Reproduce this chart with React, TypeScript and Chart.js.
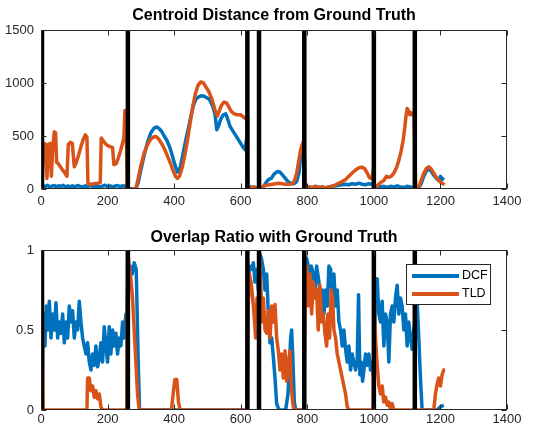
import { useEffect, useRef } from "react";
import { Chart, registerables } from "chart.js";
Chart.register(...registerables);

const FONT = "'Liberation Sans', Arial, Helvetica, sans-serif";
const INK = "#262626";
const DCF_COLOR = "#0072BD";
const TLD_COLOR = "#D95319";

const titleTop = "Centroid Distance from Ground Truth";
const titleBottom = "Overlap Ratio with Ground Truth";
const seriesNames = ["DCF", "TLD"];

const xTicks = [0, 200, 400, 600, 800, 1000, 1200, 1400];
const distTicks = [0, 500, 1000, 1500];
const overlapTicks = [0, 0.5, 1];
const reinitFrames = [3, 261, 620, 655, 791, 1000, 1123];

// Centroid distance — DCF
const distDcfFrames = [
  3, 8, 14, 20, 27, 33, 40, 47, 53, 60, 67, 73, 80, 88, 95, 102, 110, 118, 125, 133, 140, 148, 155, 163, 170, 178, 185, 193, 200, 208, 215, 223, 230, 238, 245, 252, 258,
  262, 285, 292, 300, 310, 320, 330, 340, 348, 355, 362, 370, 378, 386, 394, 402, 410, 418, 426, 434, 442, 450, 458, 466, 474, 482, 490, 498, 505, 512, 518, 523, 528, 534, 540, 548, 555, 562, 568, 574, 582, 590, 598, 606, 613, 618,
  621, 630, 640, 652,
  657, 665, 672, 678, 684, 692, 700, 710, 718, 726, 734, 742, 750, 760, 768, 775, 780, 786, 790,
  794, 805, 815, 825, 835, 845, 855, 865, 875, 885, 895, 905, 915, 925, 935, 945, 955, 965, 975, 985, 995, 999,
  1003, 1012, 1020, 1030, 1040, 1050, 1060, 1070, 1080, 1090, 1100, 1110, 1118, 1122,
  1126, 1135, 1142, 1150, 1158, 1165, 1172, 1180, 1188, 1195, 1200, 1205, 1210,
];
const distDcfValues = [
  20, 30, 22, 35, 18, 28, 32, 20, 30, 25, 35, 18, 28, 22, 30, 20, 33, 25, 18, 30, 22, 35, 25, 20, 30, 18, 28, 35, 22, 30, 20, 28, 33, 22, 30, 25, 35,
  0, 5, 60, 180, 320, 440, 530, 575, 585, 570, 545, 500, 460, 400, 320, 230, 160, 200, 320, 450, 560, 680, 790, 850, 870, 880, 875, 860, 850, 810, 760, 700, 560, 600, 660, 700, 710, 650, 590, 560, 520, 480, 440, 400, 370, 480,
  10, 20, 15, 5,
  0, 10, 40, 70, 90, 100, 140, 165, 160, 130, 100, 70, 55, 50, 70, 150, 300, 420, 450,
  15, 20, 10, 25, 15, 20, 10, 20, 25, 30, 35, 40, 45, 40, 50, 45, 55, 45, 40, 50, 45, 60,
  10, 30, 20, 25, 15, 25, 20, 30, 20, 15, 25, 20, 10, 5,
  0, 10, 50, 120, 170, 190, 170, 130, 100, 80, 120, 90, 110,
];

// Centroid distance — TLD
const distTldFrames = [
  3, 6, 10, 14, 18, 22, 27, 31, 36, 40, 44, 47, 52, 58, 65, 72, 78, 82, 88, 94, 100, 106, 113, 120, 127, 133, 138, 141, 150, 160, 170, 178, 181, 186, 193, 200, 208, 215, 219, 226, 232, 238, 244, 249, 252, 256, 259,
  262, 285, 292, 300, 310, 320, 330, 340, 348, 356, 364, 372, 380, 388, 396, 404, 410, 416, 424, 432, 440, 448, 456, 464, 472, 480, 488, 496, 504, 512, 518, 524, 530, 536, 542, 550, 558, 565, 572, 580, 590, 600, 608, 615, 619,
  621, 632, 642, 652,
  657, 665, 675, 685, 695, 705, 715, 725, 735, 745, 755, 762, 768, 774, 780, 786, 790,
  794, 805, 815, 825, 835, 845, 855, 865, 875, 885, 895, 905, 915, 925, 935, 945, 955, 965, 973, 980, 986, 992, 996, 999,
  1002, 1010, 1020, 1030, 1038, 1045, 1052, 1060, 1068, 1075, 1082, 1088, 1093, 1097, 1100, 1104, 1108, 1112, 1116, 1121,
  1126, 1135, 1142, 1150, 1158, 1165, 1172, 1180, 1188, 1195, 1202, 1208, 1212,
];
const distTldValues = [
  0, 300, 430, 420, 100, 420, 430, 120, 420, 540, 530, 250, 240, 210, 180, 150, 120, 420, 440, 430, 210, 250, 320, 400, 470, 510, 490, 50, 45, 50, 55, 60, 480, 460, 430, 410, 400, 390, 230, 240, 290, 350, 420, 480, 740, 600, 0,
  0, 0, 100, 220, 340, 420, 470, 495, 490, 460, 420, 370, 310, 250, 180, 120, 100, 120, 200, 320, 460, 620, 780, 900, 980, 1010, 1000, 960, 920, 860, 800, 730, 690, 740, 790, 820, 810, 770, 730, 710, 700, 700, 680, 660, 670,
  0, 10, 20, 0,
  0, 20, 35, 40, 45, 50, 55, 50, 45, 45, 50, 80, 150, 260, 370, 430, 450,
  10, 20, 15, 25, 15, 20, 10, 20, 25, 40, 55, 70, 90, 120, 150, 180, 200, 205, 190, 150, 110, 100, 130, 190,
  0, 30, 60, 80, 120, 110, 120, 150, 200, 270, 360, 460, 580, 700, 760, 740, 700, 720, 700, 690,
  0, 20, 80, 150, 195, 210, 190, 150, 110, 80, 60, 50, 40,
];

// Overlap ratio — DCF
const overlapDcfFrames = [
  3, 5, 8, 12, 16, 20, 25, 30, 35, 40, 45, 50, 55, 60, 65, 70, 75, 80, 85, 90, 95, 100, 105, 110, 115, 120, 125, 130, 135, 140, 145, 150, 155, 160, 165, 170, 175, 180, 185, 190, 195, 200, 205, 210, 215, 220, 225, 230, 235, 240, 245, 250, 255, 258,
  262, 268, 274, 280, 286, 289, 292, 296, 618,
  622, 626, 632, 638, 643, 648, 653,
  656, 662, 668, 673, 678, 683, 688, 693, 698, 703, 708, 715, 725, 735, 742, 746, 750, 753, 757, 761, 765, 790,
  793, 798, 803, 808, 812, 818, 823, 828, 835, 840, 845, 850, 855, 860, 865, 870, 875, 880, 885, 890, 895, 900, 905, 910, 915, 920, 925, 930, 935, 940, 945, 950, 954, 958, 962, 966, 970, 975, 980, 985, 990, 995, 998,
  1002, 1006, 1010, 1015, 1020, 1025, 1030, 1035, 1040, 1045, 1050, 1055, 1060, 1065, 1070, 1075, 1080, 1085, 1090, 1095, 1100, 1105, 1110, 1115, 1120,
  1125, 1130, 1135, 1140, 1145, 1190, 1200, 1210,
];
const overlapDcfValues = [
  0, 0.35, 0.6, 0.4, 0.65, 0.5, 0.68, 0.45, 0.6, 0.5, 0.67, 0.45, 0.55, 0.48, 0.6, 0.42, 0.55, 0.45, 0.65, 0.55, 0.62, 0.45, 0.55, 0.5, 0.68, 0.55, 0.45, 0.4, 0.35, 0.42, 0.3, 0.25, 0.35, 0.28, 0.4, 0.27, 0.32, 0.42, 0.3, 0.52, 0.4, 0.3, 0.52, 0.35, 0.5, 0.4, 0.48, 0.35, 0.45, 0.4, 0.55, 0.45, 0.6, 0.58,
  0.88, 0.9, 0.85, 0.92, 0.88, 0.6, 0.3, 0, 0,
  0.65, 0.9, 0.88, 0.92, 0.8, 0.88, 0.75,
  0.98, 0.95, 0.88, 0.75, 0.85, 0.6, 0.42, 0.45, 0.33, 0.2, 0.04, 0, 0, 0, 0.1, 0.27, 0.45, 0.5, 0.3, 0.05, 0, 0,
  0.85, 0.95, 0.9, 0.8, 0.9, 0.85, 0.75, 0.9, 0.8, 0.65, 0.75, 0.6, 0.75, 0.65, 0.9, 0.88, 0.7, 0.85, 0.65, 0.75, 0.55, 0.5, 0.4, 0.5, 0.38, 0.3, 0.4, 0.25, 0.35, 0.3, 0.25, 0.3, 0.72, 0.22, 0.3, 0.18, 0.25, 0.35, 0.28, 0.35, 0.25, 0.3, 0.22,
  0.45, 0.8, 0.82, 0.6, 0.55, 0.68, 0.4, 0.6, 0.55, 0.3, 0.6, 0.65, 0.55, 0.7, 0.78, 0.6, 0.7, 0.65, 0.5, 0.6, 0.4, 0.55, 0.45, 0.38, 0.5,
  0.6, 0.68, 0.45, 0.2, 0, 0, 0.02, 0.03,
];

// Overlap ratio — TLD
const overlapTldFrames = [
  3, 6, 138, 140, 145, 150, 155, 160, 165, 170, 175, 180, 185, 258,
  260, 265, 270, 275, 280, 285, 290, 295, 392, 397, 402, 408, 413, 418, 620,
  622, 626, 631, 636, 640, 645, 649, 653,
  656, 660, 664, 668, 673, 678, 683, 688, 693, 698, 703, 708, 713, 718, 723, 728, 733, 738, 743, 748, 752, 756, 760, 790,
  793, 798, 803, 808, 813, 818, 823, 828, 833, 838, 843, 848, 853, 858, 862, 867, 872, 876, 880, 885, 890, 895, 900, 905, 910, 915, 920, 925, 998,
  1001, 1005, 1010, 1015, 1020, 1025, 1030, 1035, 1040, 1045, 1050, 1055, 1060, 1122,
  1125, 1180, 1185, 1190, 1195, 1200, 1205, 1210, 1214,
];
const overlapTldValues = [
  0.95, 0, 0, 0.2, 0.2, 0.12, 0.15, 0.08, 0.12, 0.07, 0.1, 0.02, 0, 0,
  1, 0.9, 0.82, 0.7, 0.5, 0.3, 0.1, 0, 0, 0.1, 0.19, 0.19, 0.05, 0, 0,
  0.6, 0.85, 0.8, 0.7, 0.6, 0.45, 0.7, 0.55,
  0.95, 0.8, 0.55, 0.7, 0.5, 0.48, 0.62, 0.45, 0.65, 0.55, 0.66, 0.45, 0.37, 0.25, 0.35, 0.2, 0.37, 0.18, 0.3, 0.37, 0.15, 0.05, 0, 0,
  0.75, 0.9, 0.65, 0.85, 0.6, 0.8, 0.7, 0.75, 0.5, 0.78, 0.55, 0.6, 0.48, 0.4, 0.6, 0.45, 0.75, 0.7, 0.5, 0.45, 0.35, 0.3, 0.25, 0.2, 0.15, 0.1, 0.02, 0, 0,
  0.7, 0.45, 0.28, 0.15, 0.1, 0.15, 0.05, 0.08, 0.03, 0.05, 0, 0.04, 0, 0,
  0, 0, 0.1, 0.16, 0.2, 0.15, 0.22, 0.25, 0.25,
];

const toPoints = (xs: number[], ys: number[]) => xs.map((x, i) => ({ x, y: ys[i] }));
const reinitPoints = (yMax: number) =>
  reinitFrames.flatMap((f) => [
    { x: f, y: 0 },
    { x: f, y: yMax },
    { x: f, y: null as any },
  ]);

const boxPlugin = {
  id: "matlabBox",
  afterDraw(chart: any) {
    const { ctx, chartArea: a, scales } = chart;
    ctx.save();
    ctx.strokeStyle = INK;
    ctx.lineWidth = 1;
    const L = Math.round(a.left) + 0.5;
    const R = Math.round(a.right) - 0.5;
    const T = Math.round(a.top) + 0.5;
    const B = Math.round(a.bottom) - 0.5;
    ctx.strokeRect(L, T, R - L, B - T);
    const len = 5;
    ctx.beginPath();
    scales.x.ticks.forEach((t: any) => {
      const px = Math.round(scales.x.getPixelForValue(t.value)) + 0.5;
      ctx.moveTo(px, B);
      ctx.lineTo(px, B - len);
      ctx.moveTo(px, T);
      ctx.lineTo(px, T + len);
    });
    scales.y.ticks.forEach((t: any) => {
      const py = Math.round(scales.y.getPixelForValue(t.value)) + 0.5;
      ctx.moveTo(L, py);
      ctx.lineTo(L + len, py);
      ctx.moveTo(R, py);
      ctx.lineTo(R - len, py);
    });
    ctx.stroke();
    ctx.restore();
  },
};

const titlePlugin = {
  id: "matlabTitle",
  afterDraw(chart: any, _args: any, opts: any) {
    if (!opts || !opts.text) return;
    const { ctx, chartArea: a } = chart;
    ctx.save();
    ctx.fillStyle = "#000";
    ctx.font = `bold ${opts.size}px ${FONT}`;
    ctx.textAlign = "center";
    ctx.textBaseline = "middle";
    ctx.fillText(opts.text, (a.left + a.right) / 2, opts.y);
    ctx.restore();
  },
};

const legendPlugin = {
  id: "matlabLegend",
  afterDraw(chart: any, _args: any, opts: any) {
    if (!opts || !opts.show) return;
    const { ctx } = chart;
    const { x, y, w, h } = opts;
    ctx.save();
    ctx.fillStyle = "#fff";
    ctx.fillRect(x, y, w, h);
    ctx.strokeStyle = INK;
    ctx.lineWidth = 1;
    ctx.strokeRect(x + 0.5, y + 0.5, w - 1, h - 1);
    const items = chart.data.datasets.filter((d: any) => seriesNames.includes(d.label));
    ctx.font = `12.5px ${FONT}`;
    ctx.textBaseline = "middle";
    ctx.textAlign = "left";
    items.forEach((d: any, i: number) => {
      const ly = y + opts.firstRow + i * opts.rowGap;
      ctx.strokeStyle = d.borderColor;
      ctx.lineWidth = 4;
      ctx.beginPath();
      ctx.moveTo(x + 6, ly);
      ctx.lineTo(x + 53, ly);
      ctx.stroke();
      ctx.fillStyle = "#000";
      ctx.fillText(d.label, x + 56, ly);
    });
    ctx.restore();
  },
};

function makeConfig(opts: {
  dcf: { x: number; y: number }[];
  tld: { x: number; y: number }[];
  yMax: number;
  yTicks: number[];
  title: string;
  titleY: number;
  padTop: number;
  xAxisHeight: number;
  xLabelPad: number;
  legend: boolean;
}): any {
  return {
    type: "line",
    data: {
      datasets: [
        {
          label: seriesNames[0],
          data: opts.dcf,
          borderColor: DCF_COLOR,
          borderWidth: 3.5,
          pointRadius: 0,
          order: 2,
          borderJoinStyle: "round",
        },
        {
          label: seriesNames[1],
          data: opts.tld,
          borderColor: TLD_COLOR,
          borderWidth: 3.5,
          pointRadius: 0,
          order: 1,
          borderJoinStyle: "round",
        },
        {
          label: "reinit",
          data: reinitPoints(opts.yMax),
          borderColor: "#000",
          borderWidth: 4.5,
          pointRadius: 0,
          order: 0,
          spanGaps: false,
        },
      ],
    },
    options: {
      animation: false,
      responsive: false,
      devicePixelRatio: 1,
      events: [],
      layout: { padding: { top: opts.padTop, right: 34, bottom: 0, left: 0 } },
      scales: {
        x: {
          type: "linear",
          min: 0,
          max: 1400,
          afterBuildTicks: (s: any) => {
            s.ticks = xTicks.map((v) => ({ value: v }));
          },
          afterFit: (s: any) => {
            s.height = opts.xAxisHeight;
          },
          grid: { display: false, drawTicks: false },
          border: { display: false },
          ticks: {
            font: { family: FONT, size: 13 },
            color: INK,
            padding: opts.xLabelPad,
            maxRotation: 0,
            autoSkip: false,
            callback: (v: any) => String(v),
          },
        },
        y: {
          type: "linear",
          min: 0,
          max: opts.yMax,
          afterBuildTicks: (s: any) => {
            s.ticks = opts.yTicks.map((v) => ({ value: v }));
          },
          afterFit: (s: any) => {
            s.width = 41;
          },
          grid: { display: false, drawTicks: false },
          border: { display: false },
          ticks: {
            font: { family: FONT, size: 13 },
            color: INK,
            padding: 7,
            autoSkip: false,
            callback: (v: any) => String(v),
          },
        },
      },
      plugins: {
        legend: { display: false },
        tooltip: { enabled: false },
        title: { display: false },
        matlabTitle: { text: opts.title, y: opts.titleY, size: 16 },
        matlabLegend: opts.legend
          ? { show: true, x: 406, y: 47, w: 85, h: 41, firstRow: 12, rowGap: 18 }
          : { show: false },
      },
    },
    plugins: [boxPlugin, titlePlugin, legendPlugin],
  };
}

export default function App() {
  const topRef = useRef<HTMLCanvasElement>(null);
  const bottomRef = useRef<HTMLCanvasElement>(null);

  useEffect(() => {
    const top = new Chart(
      topRef.current!,
      makeConfig({
        dcf: toPoints(distDcfFrames, distDcfValues),
        tld: toPoints(distTldFrames, distTldValues),
        yMax: 1500,
        yTicks: distTicks,
        title: titleTop,
        titleY: 16,
        padTop: 30,
        xAxisHeight: 28,
        xLabelPad: 5,
        legend: false,
      })
    );
    const bottom = new Chart(
      bottomRef.current!,
      makeConfig({
        dcf: toPoints(overlapDcfFrames, overlapDcfValues),
        tld: toPoints(overlapTldFrames, overlapTldValues),
        yMax: 1,
        yTicks: overlapTicks,
        title: titleBottom,
        titleY: 21,
        padTop: 33,
        xAxisHeight: 24,
        xLabelPad: 2,
        legend: true,
      })
    );
    return () => {
      top.destroy();
      bottom.destroy();
    };
  }, []);

  return (
    <div style={{ position: "absolute", left: 0, top: 0, width: 541, height: 434, background: "#fff" }}>
      <canvas ref={topRef} width={541} height={217} style={{ display: "block", width: 541, height: 217 }} />
      <canvas ref={bottomRef} width={541} height={217} style={{ display: "block", width: 541, height: 217 }} />
    </div>
  );
}
